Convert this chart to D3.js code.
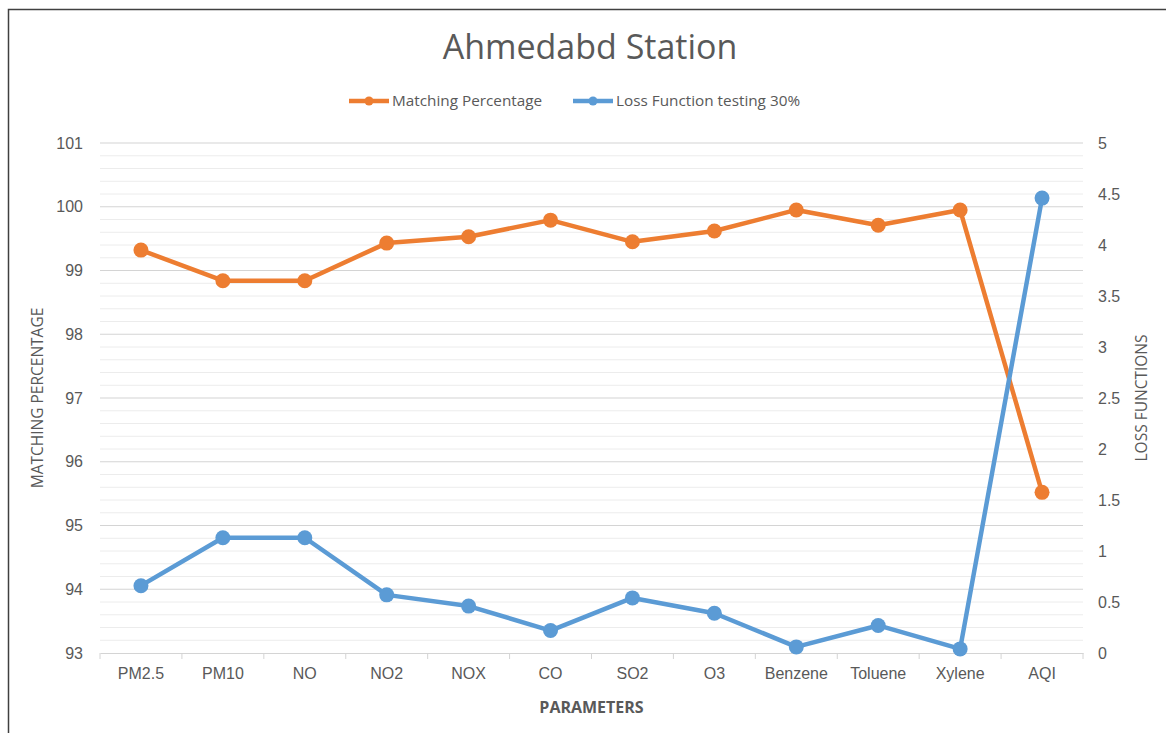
<!DOCTYPE html>
<html>
<head>
<meta charset="utf-8">
<script src="https://cdn.jsdelivr.net/npm/d3@7"></script>
<style>
  body { margin: 0; background: #fff; }
  svg { display: block; font-family: "Open Sans", "Noto Sans", sans-serif; }
</style>
</head>
<body>
<div id="chart"></div>
<script>
const categories = ['PM2.5', 'PM10', 'NO', 'NO2', 'NOX', 'CO', 'SO2', 'O3', 'Benzene', 'Toluene', 'Xylene', 'AQI'];
const matchingPct = [99.32, 98.84, 98.84, 99.43, 99.53, 99.79, 99.45, 99.62, 99.95, 99.71, 99.95, 95.52];
const lossFn = [0.66, 1.13, 1.13, 0.57, 0.46, 0.22, 0.54, 0.39, 0.06, 0.27, 0.04, 4.46];
const leftTicks = [93, 94, 95, 96, 97, 98, 99, 100, 101];
const rightTicks = [0, 0.5, 1, 1.5, 2, 2.5, 3, 3.5, 4, 4.5, 5];

const W = 1166, H = 733;
const margin = { top: 143, right: 83, bottom: 80, left: 100 };
const width = W - margin.left - margin.right;
const height = H - margin.top - margin.bottom;
const textColor = '#595959';
const orange = '#ED7D31', blue = '#5B9BD5';

const svg = d3.select('#chart').append('svg')
  .attr('width', W)
  .attr('height', H);

// outer frame
svg.append('rect')
  .attr('x', 8.5).attr('y', 9.5)
  .attr('width', W).attr('height', H)
  .attr('fill', 'none')
  .attr('stroke', '#404040')
  .attr('stroke-width', 1.5);

const g = svg.append('g').attr('transform', `translate(${margin.left},${margin.top})`);

const x = d3.scaleBand().domain(categories).range([0, width]);
const yL = d3.scaleLinear().domain([93, 101]).range([height, 0]);
const yR = d3.scaleLinear().domain([0, 5]).range([height, 0]);

// minor gridlines
const minor = d3.range(93, 101.001, 0.2).filter(v => Math.abs(v - Math.round(v)) > 0.01);
g.append('g').selectAll('line').data(minor).enter().append('line')
  .attr('x1', 0).attr('x2', width)
  .attr('y1', d => yL(d)).attr('y2', d => yL(d))
  .attr('stroke', '#ececec').attr('stroke-width', 1);

// major gridlines
g.append('g').selectAll('line').data(leftTicks.slice(1)).enter().append('line')
  .attr('x1', 0).attr('x2', width)
  .attr('y1', d => yL(d)).attr('y2', d => yL(d))
  .attr('stroke', '#d4d4d4').attr('stroke-width', 1.2);

// x axis
const xAxis = g.append('g')
  .attr('transform', `translate(0,${height})`)
  .call(d3.axisBottom(x).tickSize(0).tickPadding(15));
xAxis.select('.domain').attr('stroke', '#d4d4d4').attr('stroke-width', 1.2);
xAxis.selectAll('text').style('fill', textColor).style('font-size', '16px');
g.append('g').selectAll('line').data(d3.range(categories.length + 1)).enter().append('line')
  .attr('x1', d => d * x.bandwidth()).attr('x2', d => d * x.bandwidth())
  .attr('y1', height).attr('y2', height + 6)
  .attr('stroke', '#d4d4d4');

// left axis
const lAxis = g.append('g')
  .call(d3.axisLeft(yL).tickValues(leftTicks).tickSize(0).tickPadding(17));
lAxis.select('.domain').remove();
lAxis.selectAll('text').style('fill', textColor).style('font-size', '16px');

// right axis
const rAxis = g.append('g')
  .attr('transform', `translate(${width},0)`)
  .call(d3.axisRight(yR).tickValues(rightTicks).tickSize(0).tickPadding(15).tickFormat(d3.format('')));
rAxis.select('.domain').remove();
rAxis.selectAll('text').style('fill', textColor).style('font-size', '16px');

// lines
const series = [
  { values: matchingPct, y: yL, color: orange },
  { values: lossFn, y: yR, color: blue }
];
series.forEach(s => {
  const line = d3.line().x((d, i) => x(categories[i]) + x.bandwidth() / 2).y(d => s.y(d));
  g.append('path').datum(s.values)
    .attr('d', line)
    .attr('fill', 'none')
    .attr('stroke', s.color)
    .attr('stroke-width', 4.5)
    .attr('stroke-linejoin', 'round');
  g.append('g').selectAll('circle').data(s.values).enter().append('circle')
    .attr('cx', (d, i) => x(categories[i]) + x.bandwidth() / 2)
    .attr('cy', d => s.y(d))
    .attr('r', 7.5)
    .attr('fill', s.color);
});

// title
svg.append('text')
  .attr('x', 590).attr('y', 59)
  .attr('text-anchor', 'middle')
  .style('font-size', '34px')
  .style('fill', textColor)
  .text('Ahmedabd Station');

// legend
const legend = [
  { label: 'Matching Percentage', color: orange, x: 349 },
  { label: 'Loss Function testing 30%', color: blue, x: 573 }
];
legend.forEach(l => {
  const lg = svg.append('g').attr('transform', `translate(${l.x},101)`);
  lg.append('line').attr('x1', 0).attr('x2', 40).attr('stroke', l.color).attr('stroke-width', 4.5);
  lg.append('circle').attr('cx', 20).attr('r', 4.5).attr('fill', l.color);
  lg.append('text').attr('x', 43).attr('y', 5)
    .style('font-size', '15.3px').style('fill', textColor)
    .text(l.label);
});

// axis titles
svg.append('text')
  .attr('transform', `translate(43,${margin.top + height / 2}) rotate(-90)`)
  .attr('text-anchor', 'middle')
  .style('font-size', '15.5px').style('fill', textColor)
  .text('MATCHING PERCENTAGE');
svg.append('text')
  .attr('transform', `translate(1147,${margin.top + height / 2}) rotate(-90)`)
  .attr('text-anchor', 'middle')
  .style('font-size', '15.5px').style('fill', textColor)
  .text('LOSS FUNCTIONS');
svg.append('text')
  .attr('x', margin.left + width / 2).attr('y', 713)
  .attr('text-anchor', 'middle')
  .style('font-size', '16px').style('font-weight', 'bold').style('fill', textColor)
  .text('PARAMETERS');
</script>
</body>
</html>
